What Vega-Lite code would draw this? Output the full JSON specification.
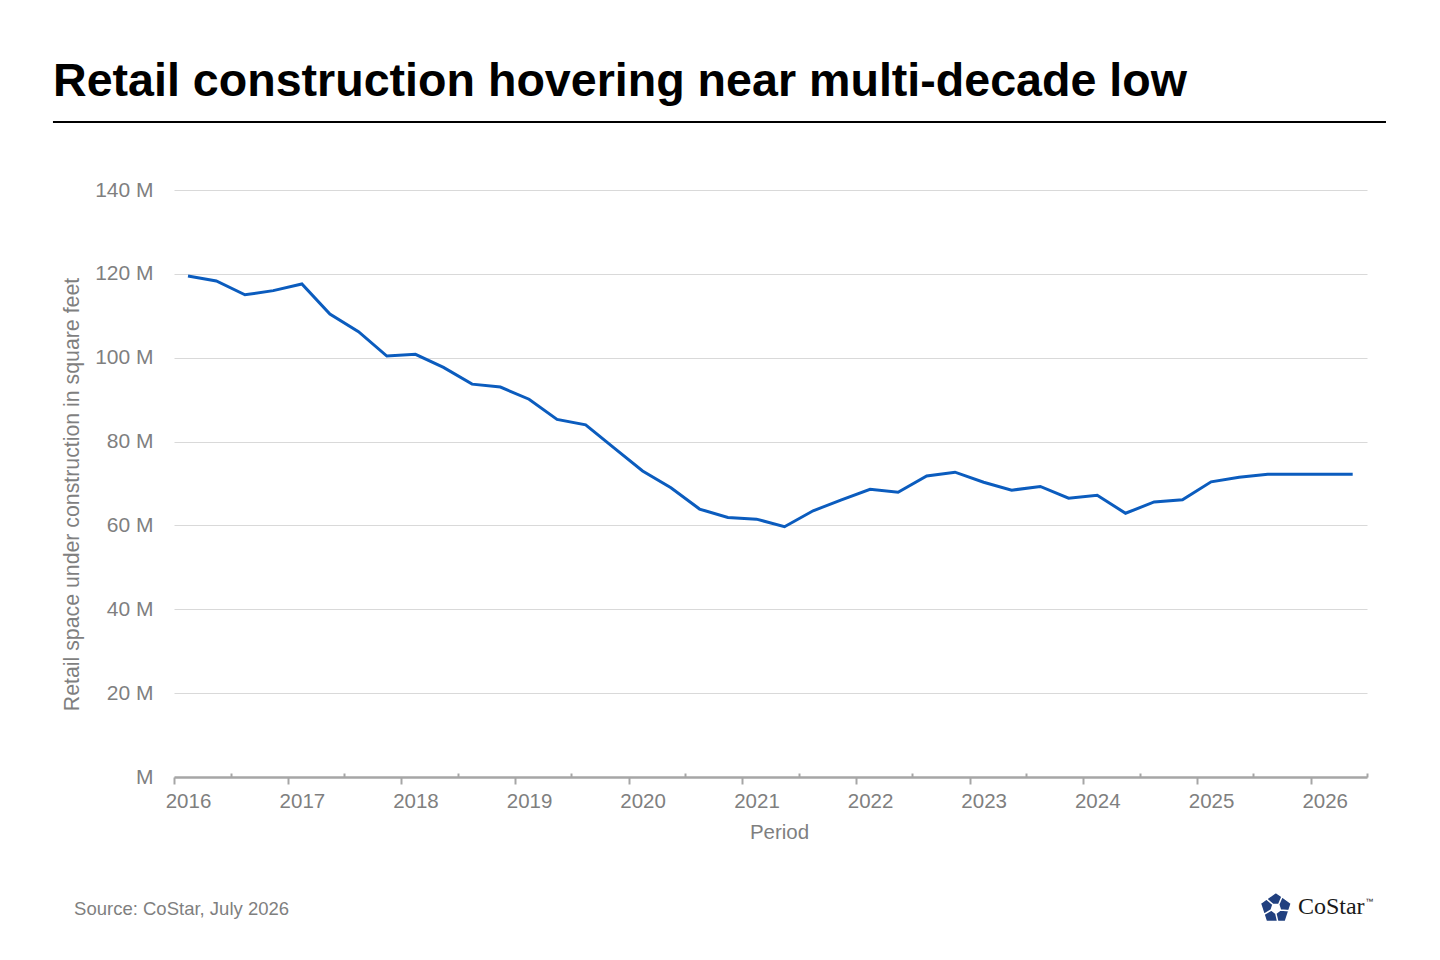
{
  "$schema": "https://vega.github.io/schema/vega-lite/v6.json",
  "width": 1193,
  "height": 587,
  "autosize": {"type": "none"},
  "padding": {"left": 174, "top": 190, "right": 73, "bottom": 183},
  "background": "white",
  "config": {"view": {"stroke": null}, "font": "Liberation Sans"},
  "title": {
    "text": "Retail construction hovering near multi-decade low",
    "anchor": "start",
    "frame": "group",
    "dx": -121,
    "dy": 46,
    "fontSize": 46.6,
    "fontWeight": "bold",
    "color": "#000000",
    "font": "Liberation Sans",
    "baseline": "bottom",
    "offset": 14
  },
  "data": {
    "values": [
      {"period": "2016-02-15", "sqft": 119500000},
      {"period": "2016-05-16", "sqft": 118300000},
      {"period": "2016-08-16", "sqft": 115000000},
      {"period": "2016-11-15", "sqft": 116000000},
      {"period": "2017-02-15", "sqft": 117600000},
      {"period": "2017-05-16", "sqft": 110400000},
      {"period": "2017-08-16", "sqft": 106200000},
      {"period": "2017-11-15", "sqft": 100400000},
      {"period": "2018-02-15", "sqft": 100800000},
      {"period": "2018-05-16", "sqft": 97700000},
      {"period": "2018-08-16", "sqft": 93700000},
      {"period": "2018-11-15", "sqft": 93000000},
      {"period": "2019-02-15", "sqft": 90100000},
      {"period": "2019-05-16", "sqft": 85300000},
      {"period": "2019-08-16", "sqft": 84000000},
      {"period": "2019-11-15", "sqft": 78500000},
      {"period": "2020-02-15", "sqft": 73000000},
      {"period": "2020-05-16", "sqft": 69000000},
      {"period": "2020-08-16", "sqft": 63900000},
      {"period": "2020-11-15", "sqft": 61900000},
      {"period": "2021-02-15", "sqft": 61500000},
      {"period": "2021-05-16", "sqft": 59700000},
      {"period": "2021-08-16", "sqft": 63500000},
      {"period": "2021-11-15", "sqft": 66100000},
      {"period": "2022-02-15", "sqft": 68600000},
      {"period": "2022-05-16", "sqft": 67900000},
      {"period": "2022-08-16", "sqft": 71800000},
      {"period": "2022-11-15", "sqft": 72700000},
      {"period": "2023-02-15", "sqft": 70300000},
      {"period": "2023-05-16", "sqft": 68400000},
      {"period": "2023-08-16", "sqft": 69300000},
      {"period": "2023-11-15", "sqft": 66500000},
      {"period": "2024-02-15", "sqft": 67200000},
      {"period": "2024-05-16", "sqft": 62900000},
      {"period": "2024-08-16", "sqft": 65600000},
      {"period": "2024-11-15", "sqft": 66100000},
      {"period": "2025-02-15", "sqft": 70400000},
      {"period": "2025-05-16", "sqft": 71500000},
      {"period": "2025-08-16", "sqft": 72200000},
      {"period": "2025-11-15", "sqft": 72200000},
      {"period": "2026-02-15", "sqft": 72200000},
      {"period": "2026-05-16", "sqft": 72200000}
    ]
  },
  "layer": [
    {
      "mark": {"type": "line", "color": "#0b5cbe", "strokeWidth": 3},
      "encoding": {
        "x": {
          "field": "period",
          "type": "temporal",
          "scale": {
            "type": "utc",
            "domain": [
              {"year": 2016, "month": 1, "date": 1, "utc": true},
              {"year": 2026, "month": 7, "date": 1, "utc": true}
            ]
          },
          "axis": {
            "title": "Period",
            "tickCount": {"interval": "month", "step": 6},
            "labelExpr": "utcmonth(datum.value) == 0 ? utcFormat(datum.value, '%Y') : ''",
            "labelFlush": false,
            "labelOverlap": false,
            "labelOffset": 14,
            "labelPadding": 7,
            "labelFontSize": 20.5,
            "labelColor": "#7f7f7f",
            "grid": false,
            "domainColor": "#a6a6a6",
            "domainWidth": 2.5,
            "tickColor": "#a6a6a6",
            "tickWidth": 2,
            "tickSize": {"condition": {"test": "utcmonth(datum.value) == 0", "value": 7}, "value": -4},
            "titleFontSize": 20.5,
            "titleFontWeight": "normal",
            "titleColor": "#7f7f7f",
            "titlePadding": 11,
            "titleX": 605
          }
        },
        "y": {
          "field": "sqft",
          "type": "quantitative",
          "scale": {"domain": [0, 140000000], "nice": false},
          "axis": {
            "title": "Retail space under construction in square feet",
            "values": [0, 20000000, 40000000, 60000000, 80000000, 100000000, 120000000, 140000000],
            "labelExpr": "datum.value == 0 ? 'M' : format(datum.value / 1000000, 'd') + ' M'",
            "grid": true,
            "gridColor": "#d9d9d9",
            "gridWidth": 1,
            "domain": false,
            "ticks": false,
            "tickSize": 0,
            "labelPadding": 21,
            "labelFontSize": 21,
            "labelColor": "#7f7f7f",
            "titleFontSize": 21.3,
            "titleFontWeight": "normal",
            "titleColor": "#7f7f7f",
            "titlePadding": 12,
            "titleY": 304
          }
        }
      }
    },
    {
      "data": {"values": [{}]},
      "mark": {"type": "rule", "color": "#000000", "strokeWidth": 2},
      "encoding": {
        "x": {"datum": {"year": 2014, "month": 12, "date": 8, "utc": true}},
        "x2": {"datum": {"year": 2026, "month": 8, "date": 31, "utc": true}},
        "y": {"datum": 156200000}
      }
    },
    {
      "data": {"values": [{}]},
      "mark": {"type": "text", "text": "Source: CoStar, July 2026", "align": "left", "baseline": "middle", "fontSize": 18.5, "color": "#7f7f7f", "font": "Liberation Sans"},
      "encoding": {
        "x": {"datum": {"year": 2015, "month": 2, "date": 14, "utc": true}},
        "y": {"datum": -31500000}
      }
    },
    {
      "data": {"values": [{}]},
      "mark": {
        "type": "point",
        "filled": true,
        "opacity": 1,
        "color": "#21407f",
        "stroke": "#ffffff",
        "strokeWidth": 1.5,
        "size": 1050,
        "shape": "M-0.5707,-0.5854L0,-1L0.3804,-0.7236L0.1763,-0.2427L-0.1763,-0.2427ZM0.3804,-0.7236L0.9511,-0.309L0.8058,0.1382L0.2853,0.0927L0.1763,-0.2427ZM0.8058,0.1382L0.5878,0.809L0.1176,0.809L0,0.3L0.2853,0.0927ZM0.1176,0.809L-0.5878,0.809L-0.7331,0.3618L-0.2853,0.0927L0,0.3ZM-0.7331,0.3618L-0.9511,-0.309L-0.5707,-0.5854L-0.1763,-0.2427L-0.2853,0.0927Z"
      },
      "encoding": {
        "x": {"datum": {"year": 2025, "month": 9, "date": 11, "utc": true}},
        "y": {"datum": -31360000}
      }
    },
    {
      "data": {"values": [{}]},
      "mark": {"type": "text", "text": "CoStar", "align": "left", "baseline": "middle", "fontSize": 24, "color": "#1a1a1a", "font": "Liberation Serif"},
      "encoding": {
        "x": {"datum": {"year": 2025, "month": 11, "date": 21, "utc": true}},
        "y": {"datum": -31000000}
      }
    },
    {
      "data": {"values": [{}]},
      "mark": {"type": "text", "text": "™", "align": "left", "baseline": "middle", "fontSize": 8, "color": "#1a1a1a", "font": "Liberation Sans"},
      "encoding": {
        "x": {"datum": {"year": 2026, "month": 6, "date": 25, "utc": true}},
        "y": {"datum": -29800000}
      }
    }
  ]
}
